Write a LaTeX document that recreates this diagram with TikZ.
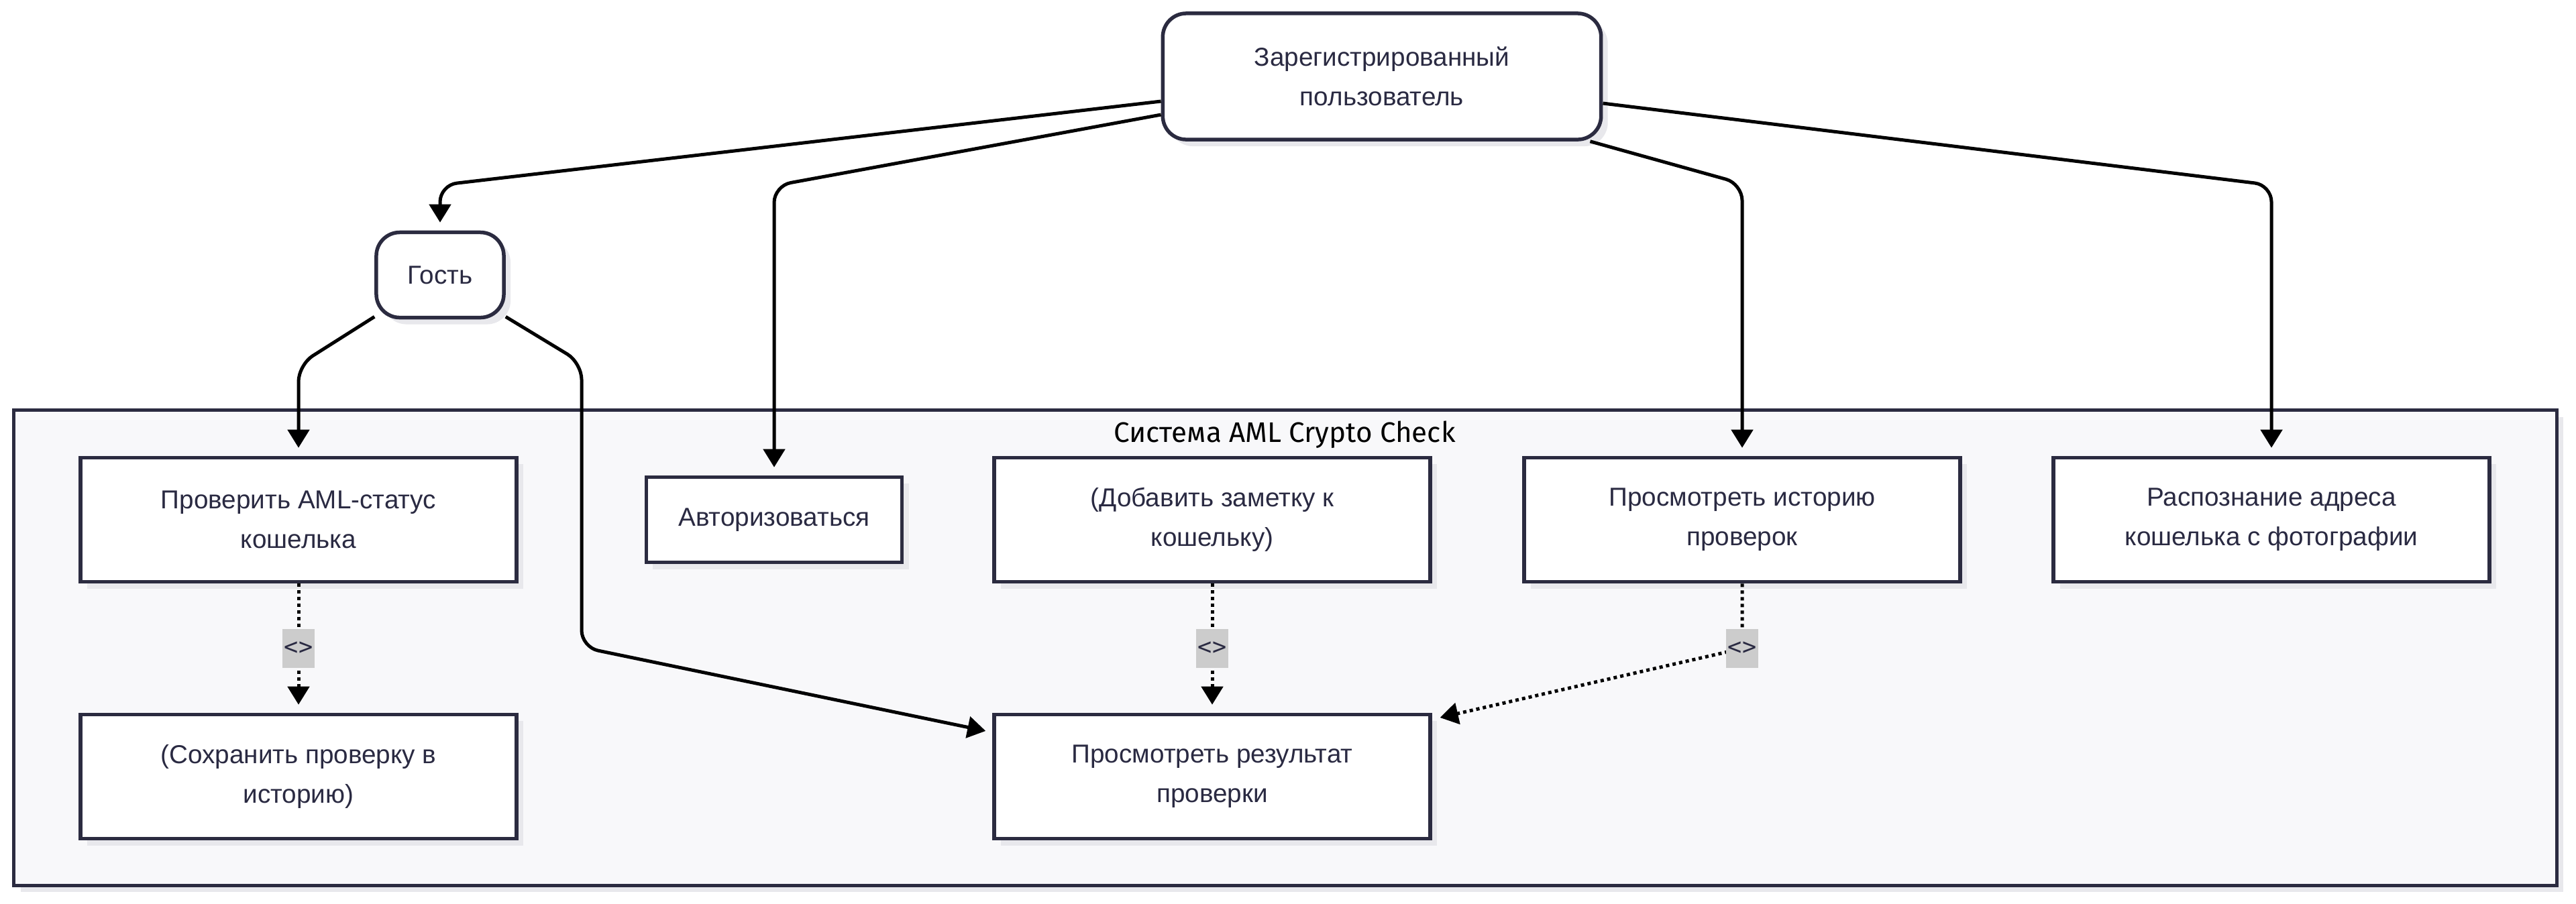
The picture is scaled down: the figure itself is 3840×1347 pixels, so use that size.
\documentclass[tikz,border=0pt]{standalone}
\usepackage{fontspec}
\setmainfont{Liberation Sans}
\newfontfamily\titlefont{Fira Sans}
\newfontfamily\labelfont{DejaVu Sans Mono}
\usetikzlibrary{arrows.meta,shadows}
\definecolor{edgec}{HTML}{2B2B40}
\definecolor{txtc}{HTML}{2A2A42}
\definecolor{framec}{HTML}{F8F8FA}
\definecolor{shadowc}{HTML}{E8E8EC}
\definecolor{lblc}{HTML}{CCCCCC}

\begin{document}
\begin{tikzpicture}[x=0.01cm,y=-0.01cm]
\tikzstyle{shadowed}=[drop shadow={shadow xshift=0.1cm,shadow yshift=-0.1cm,fill=shadowc,opacity=1}]
\tikzstyle{basebox}=[draw=edgec,line width=0.055cm,fill=white,text=txtc,align=center,inner sep=0pt,font=\fontsize{11}{16.7}\selectfont,shadowed]
\tikzstyle{actor}=[basebox,rounded corners=0.35cm]
\tikzstyle{usecase}=[basebox,minimum width=6.5cm,minimum height=1.85cm]
\tikzstyle{arr}=[draw=black,line width=0.05cm,rounded corners=0.25cm,-{Triangle[length=0.27cm,width=0.32cm]},shorten >=0.12cm]
\tikzstyle{dotarr}=[arr,dash pattern=on 0.05cm off 0.05cm]
\tikzstyle{rel}=[fill=lblc,text=txtc,inner sep=0pt,minimum width=0.48cm,minimum height=0.58cm,font=\labelfont\fontsize{10}{12}\selectfont]
\useasboundingbox (0,0) rectangle (3840,1347);
\fill[white] (0,0) rectangle (3840,1347);

\node[draw=edgec,line width=0.05cm,fill=framec,minimum width=37.88cm,minimum height=7.08cm,shadowed] (frame) at (1916,966) {};
\node[text=black,font=\titlefont\fontsize{12}{14}\selectfont] (title) at (1915,648) {Система AML Crypto Check};

\node[actor,minimum width=6.53cm,minimum height=1.88cm] (reg) at (2060,114) {Зарегистрированный\\пользователь};
\node[actor,minimum width=1.9cm,minimum height=1.27cm] (guest) at (656,410) {Гость};

\node[usecase] (check) at (445,775) {Проверить AML-статус\\кошелька};
\node[basebox,minimum width=3.81cm,minimum height=1.27cm] (auth) at (1154,775) {Авторизоваться};
\node[usecase] (note) at (1807,775) {(Добавить заметку к\\кошельку)};
\node[usecase] (hist) at (2597,775) {Просмотреть историю\\проверок};
\node[usecase] (recog) at (3386,775) {Распознание адреса\\кошелька с фотографии};
\node[usecase] (save) at (445,1158) {(Сохранить проверку в\\историю)};
\node[usecase] (res) at (1807,1158) {Просмотреть результат\\проверки};

\draw[arr] ([yshift=-0.37cm]reg.west) -- (656,276) -- (guest.north);
\draw[arr] ([yshift=-0.57cm]reg.west) -- (1154,277) -- (auth.north);
\draw[arr] ([xshift=-0.19cm]reg.south east) -- (2597,274) -- (hist.north);
\draw[arr] ([yshift=-0.40cm]reg.east) -- (3386,276) -- (recog.north);
\draw[arr] ([yshift=0.04cm]guest.south west) -- (445,544) -- (check.north);
\draw[arr,shorten >=0.1cm] ([yshift=0.04cm]guest.south east) -- (867,541) -- (867,965) -- ([yshift=0.66cm]res.west);

\draw[dotarr] (check.south) -- (save.north);
\draw[dotarr] (note.south) -- (res.north);
\draw[dotarr] (hist.south) -- (2597,967) -- ([yshift=-0.1cm]res.north east);

\node[rel] (rel1) at (445,967) {<>};
\node[rel] (rel2) at (1807,967) {<>};
\node[rel] (rel3) at (2597,967) {<>};
\end{tikzpicture}
\end{document}
